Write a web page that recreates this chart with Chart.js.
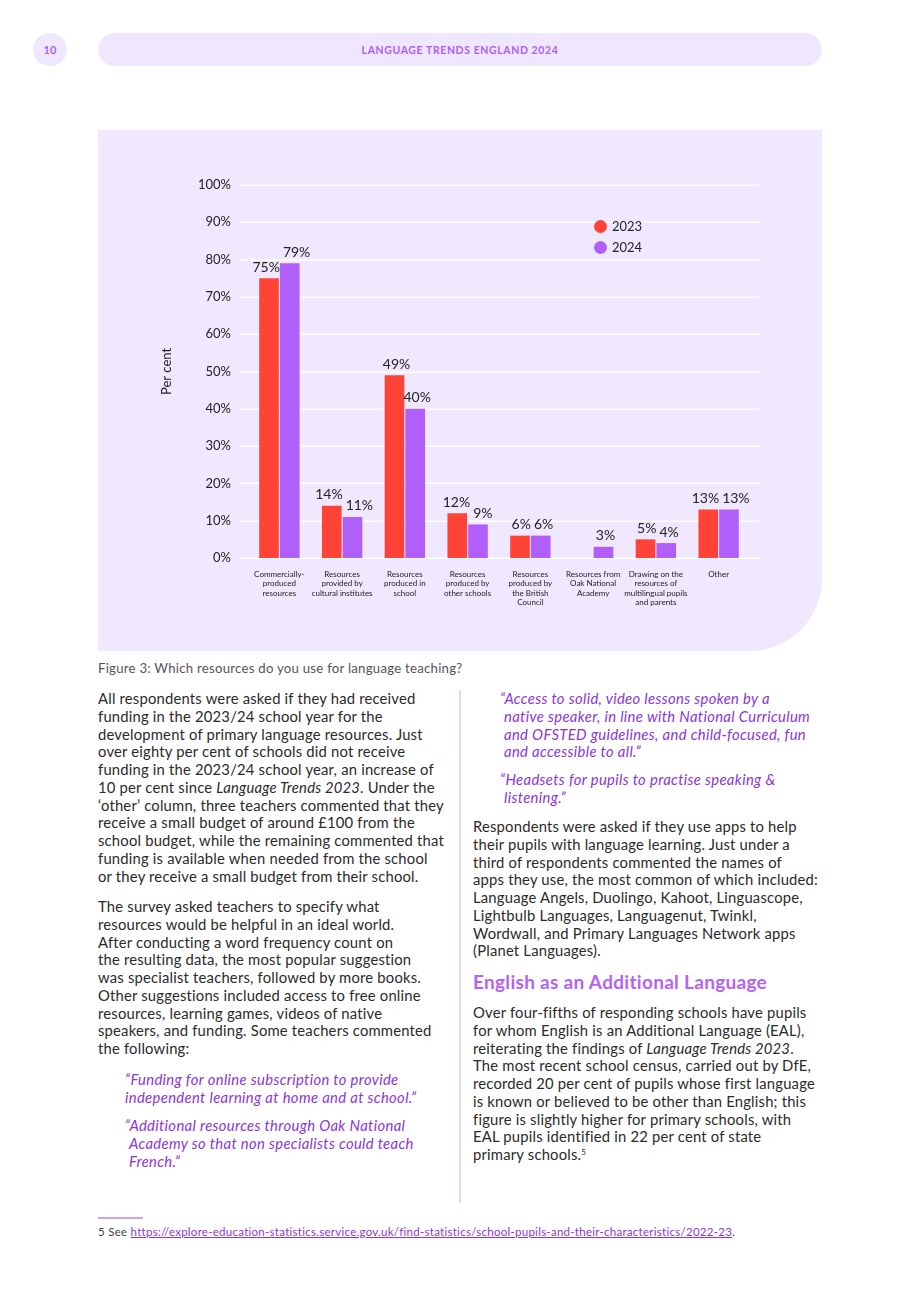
<!DOCTYPE html>
<html>
<head>
<meta charset="utf-8">
<script src="https://cdn.jsdelivr.net/npm/chart.js@4.4.1/dist/chart.umd.min.js"></script>
<style>
  html, body { margin:0; padding:0; background:#fff; }
  body { width:920px; height:1302px; position:relative; overflow:hidden; font-family: Lato, sans-serif; color:#2a2a2a; }
  .abs { position:absolute; }
  .pnum { left:33px; top:33px; width:34px; height:33px; border-radius:50%; background:#efe7fe; color:#b15cf5; font-weight:700; font-size:11px; display:flex; align-items:center; justify-content:center; }
  .pill { left:98px; top:33px; width:724px; height:33px; border-radius:17px; background:#efe7fe; color:#b15cf5; font-weight:700; font-size:10.5px; letter-spacing:0.6px; display:flex; align-items:center; justify-content:center; }
  .panel { left:98px; top:130px; width:724px; height:521px; background:#f0e8fe; border-bottom-right-radius:72px; }
  #wrap { position:absolute; left:98px; top:130px; width:724px; height:521px; }
  .legend { font-size:13px; color:#222; }
  .legend .item { position:absolute; display:flex; align-items:center; white-space:nowrap; }
  .legend .dot { width:13px; height:13px; border-radius:50%; margin-right:5px; }
  .caption { left:98px; top:660px; font-size:13.2px; letter-spacing:0.25px; color:#555; white-space:nowrap; }
  .txt { font-size:14.8px; letter-spacing:0.2px; line-height:17.75px; white-space:nowrap; color:#2a2a2a; }
  .q { font-style:italic; color:#8a36d8; letter-spacing:0.35px; }
  .ind { display:inline-block; width:4px; }
  .divider { left:459px; top:690px; width:2px; height:513px; background:#e4d3fb; }
  .heading { left:473px; top:970px; font-size:19px; letter-spacing:0.3px; font-weight:700; color:#b463f5; white-space:nowrap; }
  .fnline { left:98px; top:1217px; width:45px; height:1.5px; background:#c9a4f6; }
  .fn { left:98px; top:1225px; font-size:11.5px; letter-spacing:0.27px; color:#444; white-space:nowrap; }
  .fn a { color:#8a36d8; text-decoration:underline; }
  sup { font-size:8px; line-height:0; vertical-align:5px; }
</style>
</head>
<body>
<div class="abs pnum">10</div>
<div class="abs pill">LANGUAGE TRENDS ENGLAND 2024</div>
<div class="abs panel"></div>
<div id="wrap"><canvas id="c"></canvas></div>
<div class="abs legend" id="legend" style="left:0;top:0;"></div>
<div class="abs caption">Figure 3: Which resources do you use for language teaching?</div>

<div class="abs txt" style="left:98px;top:690px;">All respondents were asked if they had received<br>funding in the 2023/24 school year for the<br>development of primary language resources. Just<br>over eighty per cent of schools did not receive<br>funding in the 2023/24 school year, an increase of<br>10 per cent since <i>Language Trends 2023</i>. Under the<br>‘other’ column, three teachers commented that they<br>receive a small budget of around £100 from the<br>school budget, while the remaining commented that<br>funding is available when needed from the school<br>or they receive a small budget from their school.</div>

<div class="abs txt" style="left:98px;top:898px;">The survey asked teachers to specify what<br>resources would be helpful in an ideal world.<br>After conducting a word frequency count on<br>the resulting data, the most popular suggestion<br>was specialist teachers, followed by more books.<br>Other suggestions included access to free online<br>resources, learning games, videos of native<br>speakers, and funding. Some teachers commented<br>the following:</div>

<div class="abs txt q" style="left:125px;top:1071px;">“Funding for online subscription to provide<br>independent learning at home and at school.”</div>
<div class="abs txt q" style="left:125px;top:1117px;">“Additional resources through Oak National<br><span class="ind"></span>Academy so that non specialists could teach<br><span class="ind"></span>French.”</div>

<div class="abs divider"></div>

<div class="abs txt q" style="left:500px;top:690px;">“Access to solid, video lessons spoken by a<br><span class="ind"></span>native speaker, in line with National Curriculum<br><span class="ind"></span>and OFSTED guidelines, and child-focused, fun<br><span class="ind"></span>and accessible to all.”</div>
<div class="abs txt q" style="left:500px;top:771px;">“Headsets for pupils to practise speaking &amp;<br><span class="ind"></span>listening.”</div>

<div class="abs txt" style="left:473px;top:818px;">Respondents were asked if they use apps to help<br>their pupils with language learning. Just under a<br>third of respondents commented the names of<br>apps they use, the most common of which included:<br>Language Angels, Duolingo, Kahoot, Linguascope,<br>Lightbulb Languages, Languagenut, Twinkl,<br>Wordwall, and Primary Languages Network apps<br>(Planet Languages).</div>

<div class="abs heading">English as an Additional Language</div>

<div class="abs txt" style="left:473px;top:1004px;">Over four-fifths of responding schools have pupils<br>for whom English is an Additional Language (EAL),<br>reiterating the findings of <i>Language Trends 2023</i>.<br>The most recent school census, carried out by DfE,<br>recorded 20 per cent of pupils whose first language<br>is known or believed to be other than English; this<br>figure is slightly higher for primary schools, with<br>EAL pupils identified in 22 per cent of state<br>primary schools.<sup>5</sup></div>

<div class="abs fnline"></div>
<div class="abs fn">5 See <a>https://explore-education-statistics.service.gov.uk/find-statistics/school-pupils-and-their-characteristics/2022-23</a>.</div>

<script>
const categories = [
  ["Commercially-","produced","resources"],
  ["Resources","provided by","cultural institutes"],
  ["Resources","produced in","school"],
  ["Resources","produced by","other schools"],
  ["Resources","produced by","the British","Council"],
  ["Resources from","Oak National","Academy"],
  ["Drawing on the","resources of","multilingual pupils","and parents"],
  ["Other"]
];
const seriesNames = ["2023", "2024"];
const values2023 = [75, 14, 49, 12, 6, null, 5, 13];
const values2024 = [79, 11, 40, 9, 6, 3, 4, 13];
const seriesColors = ["#ff4437", "#b15ffb"];
const yTickStep = 10;
const yMax = 100;
const yAxisTitle = "Per cent";

Chart.defaults.font.family = "Lato, sans-serif";
Chart.defaults.color = "#222";

const gridPlugin = {
  id: 'extGrid',
  beforeDatasetsDraw(chart) {
    const y = chart.scales.y, a = chart.chartArea, ctx = chart.ctx;
    ctx.save();
    ctx.strokeStyle = '#ffffff';
    ctx.lineWidth = 1.5;
    y.ticks.forEach(t => {
      const py = Math.round(y.getPixelForValue(t.value)) + 0.25;
      ctx.beginPath();
      ctx.moveTo(a.left - 8, py);
      ctx.lineTo(a.right + 10, py);
      ctx.stroke();
    });
    ctx.restore();
  }
};

const labelPlugin = {
  id: 'valLabels',
  afterDatasetsDraw(chart) {
    const ctx = chart.ctx;
    ctx.save();
    ctx.font = '14px Lato, sans-serif';
    ctx.fillStyle = '#222';
    ctx.textAlign = 'center';
    ctx.textBaseline = 'bottom';
    const n = chart.data.labels.length;
    for (let j = 0; j < n; j++) {
      const items = [];
      chart.data.datasets.forEach((ds, i) => {
        const v = ds.data[j];
        if (v === null || v === undefined) return;
        const el = chart.getDatasetMeta(i).data[j];
        const txt = v + '%';
        items.push({ txt, x: el.x + 2, y: el.y - 4, w: ctx.measureText(txt).width });
      });
      // simple collision avoidance between neighbouring labels in a group
      for (let k = 1; k < items.length; k++) {
        const a = items[k - 1], b = items[k];
        if (Math.abs(a.y - b.y) < 18) {
          const gap = (b.x - b.w / 2) - (a.x + a.w / 2);
          if (gap < 3) {
            const push = (3 - gap) / 2;
            a.x -= push; b.x += push;
          }
        }
      }
      items.forEach(it => ctx.fillText(it.txt, it.x, it.y));
    }
    ctx.restore();
  }
};

const chart = new Chart(document.getElementById('c'), {
  type: 'bar',
  data: {
    labels: categories,
    datasets: [
      { label: seriesNames[0], data: values2023, backgroundColor: seriesColors[0], borderWidth: 0 },
      { label: seriesNames[1], data: values2024, backgroundColor: seriesColors[1], borderWidth: 0 }
    ]
  },
  options: {
    responsive: true,
    maintainAspectRatio: false,
    animation: false,
    categoryPercentage: 0.66,
    barPercentage: 0.95,
    layout: { padding: { left: 61, right: 72, top: 55, bottom: 0 } },
    plugins: { legend: { display: false }, tooltip: { enabled: false } },
    scales: {
      x: {
        grid: { display: false, drawTicks: false },
        border: { display: false },
        ticks: { font: { size: 8, lineHeight: 1.15 }, color: '#222', padding: 12, maxRotation: 0, autoSkip: false },
        afterFit(s) { s.height = 93; }
      },
      y: {
        min: 0, max: yMax,
        grid: { display: false, drawTicks: false },
        border: { display: false },
        ticks: { stepSize: yTickStep, font: { size: 13 }, color: '#222', padding: 17, callback: v => v + '%' },
        title: { display: true, text: yAxisTitle, font: { size: 13 }, color: '#222', padding: { top: 0, bottom: 0 } },
        afterFit(s) { s.width = 89; }
      }
    }
  },
  plugins: [gridPlugin, labelPlugin]
});

// legend built from dataset names/colours
const leg = document.getElementById('legend');
seriesNames.forEach((n, i) => {
  const d = document.createElement('div');
  d.className = 'item';
  d.style.left = '594px';
  d.style.top = (218 + i * 21) + 'px';
  d.innerHTML = '<span class="dot" style="background:' + seriesColors[i] + '"></span><span>' + n + '</span>';
  leg.appendChild(d);
});
</script>
</body>
</html>
